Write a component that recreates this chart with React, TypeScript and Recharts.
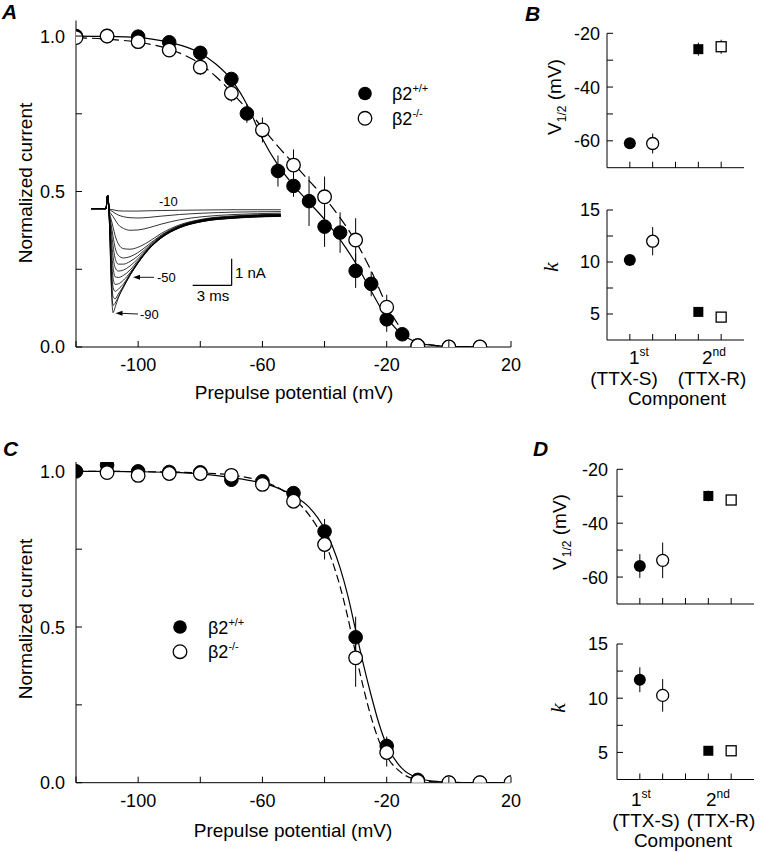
import React from 'react';
import {
  ComposedChart,
  LineChart,
  Line,
  Scatter,
  XAxis,
  YAxis,
  ErrorBar,
  ReferenceLine,
} from 'recharts';

const FONT = '"Liberation Sans", Arial, Helvetica, sans-serif';
const SERIF = '"Liberation Serif", "Times New Roman", serif';

// ---------- Panel A: inactivation curves ----------
const aWtV = [-120, -110, -100, -90, -80, -70, -65, -55, -50, -45, -40, -35, -30, -25, -20, -15, -10, 0, 10];
const aWtI = [1.0, 1.0, 0.998, 0.98, 0.946, 0.862, 0.751, 0.566, 0.518, 0.469, 0.387, 0.368, 0.245, 0.203, 0.089, 0.041, 0.005, 0, 0];
const aWtErr = [0, 0, 0, 0.01, 0.015, 0.015, 0.03, 0.05, 0.035, 0.08, 0.065, 0.065, 0.055, 0.04, 0.04, 0.01, 0, 0, 0];

const aKoV = [-120, -110, -100, -90, -80, -70, -60, -50, -40, -30, -20, -10, 0, 10];
const aKoI = [0.995, 1.0, 0.982, 0.955, 0.9, 0.816, 0.698, 0.585, 0.483, 0.344, 0.128, 0.004, 0, 0];
const aKoErr = [0, 0.005, 0.01, 0.012, 0.025, 0.027, 0.04, 0.05, 0.065, 0.07, 0.04, 0, 0, 0];

const aFitV = [-120, -110, -100, -90, -80, -75, -70, -65, -60, -55, -50, -45, -40, -35, -30, -25, -20, -15, -10, -5, 0, 10];
const aFitWt = [1.0, 0.999, 0.995, 0.98, 0.945, 0.91, 0.86, 0.78, 0.67, 0.585, 0.52, 0.465, 0.41, 0.345, 0.27, 0.18, 0.095, 0.04, 0.014, 0.005, 0.002, 0];
const aFitKo = [0.995, 0.99, 0.98, 0.958, 0.91, 0.87, 0.82, 0.765, 0.705, 0.645, 0.59, 0.535, 0.48, 0.415, 0.34, 0.245, 0.135, 0.055, 0.018, 0.006, 0.002, 0];

// inset current traces (ms, nA)
const INSET_T = [0, 1.15, 1.28, 1.42, 1.55, 1.7, 1.85, 2.1, 2.5, 3.0, 3.6, 4.4, 5.4, 6.8, 8.6, 11, 14.6];
const TRACES = [
  [0, 0, 0.5, -0.6, -2.8, -3.9, -3.7, -3.35, -2.95, -2.5, -2.05, -1.55, -1.1, -0.72, -0.48, -0.36, -0.29],
  [0, 0, 0.5, -0.55, -2.6, -3.62, -3.55, -3.3, -2.93, -2.5, -2.05, -1.55, -1.1, -0.72, -0.48, -0.35, -0.28],
  [0, 0, 0.5, -0.5, -2.3, -3.3, -3.38, -3.2, -2.9, -2.48, -2.04, -1.54, -1.09, -0.71, -0.47, -0.35, -0.28],
  [0, 0, 0.5, -0.45, -2.0, -2.95, -3.1, -3.02, -2.82, -2.45, -2.02, -1.53, -1.08, -0.7, -0.46, -0.34, -0.27],
  [0, 0, 0.5, -0.4, -1.7, -2.6, -2.84, -2.82, -2.68, -2.4, -2.0, -1.52, -1.07, -0.69, -0.45, -0.33, -0.26],
  [0, 0, 0.5, -0.35, -1.4, -2.2, -2.55, -2.58, -2.5, -2.3, -1.95, -1.5, -1.06, -0.68, -0.44, -0.32, -0.25],
  [0, 0, 0.5, -0.3, -1.1, -1.8, -2.2, -2.34, -2.3, -2.15, -1.88, -1.47, -1.04, -0.67, -0.43, -0.31, -0.24],
  [0, 0, 0.5, -0.25, -0.8, -1.4, -1.85, -2.08, -2.08, -1.98, -1.78, -1.42, -1.02, -0.66, -0.42, -0.3, -0.23],
  [0, 0, 0.5, -0.2, -0.6, -1.05, -1.45, -1.75, -1.85, -1.8, -1.65, -1.36, -0.99, -0.64, -0.41, -0.29, -0.22],
  [0, 0, 0.5, -0.15, -0.4, -0.7, -1.0, -1.32, -1.5, -1.52, -1.45, -1.25, -0.93, -0.61, -0.39, -0.27, -0.21],
  [0, 0, 0.5, -0.1, -0.2, -0.3, -0.42, -0.6, -0.74, -0.81, -0.8, -0.72, -0.58, -0.42, -0.3, -0.22, -0.17],
  [0, 0, 0.5, -0.05, -0.08, -0.12, -0.17, -0.24, -0.3, -0.34, -0.35, -0.33, -0.28, -0.22, -0.17, -0.13, -0.11],
  [0, 0, 0.5, -0.02, -0.03, -0.04, -0.06, -0.08, -0.09, -0.09, -0.09, -0.08, -0.07, -0.06, -0.05, -0.04, -0.04],
];

// ---------- Panel C ----------
const cWtV = [-120, -110, -100, -90, -80, -70, -60, -50, -40, -30, -20, -10, 0, 10, 20];
const cWtI = [1.0, 1.02, 1.0, 0.998, 0.997, 0.973, 0.968, 0.93, 0.807, 0.467, 0.118, 0.009, 0, 0, 0];
const cWtErr = [0, 0.005, 0.005, 0, 0, 0.01, 0.01, 0.015, 0.04, 0.066, 0.03, 0.005, 0, 0, 0];

const cKoV = [-110, -100, -90, -80, -70, -60, -50, -40, -30, -20, -10, 0, 10, 20];
const cKoI = [0.996, 0.987, 0.993, 0.993, 0.987, 0.958, 0.904, 0.765, 0.401, 0.097, 0.004, 0, 0, 0];
const cKoErr = [0, 0, 0, 0, 0.005, 0.01, 0.015, 0.048, 0.093, 0.045, 0, 0, 0, 0];

const cFitV = [-120, -110, -100, -90, -80, -70, -60, -55, -50, -45, -40, -37.5, -35, -32.5, -30, -27.5, -25, -22.5, -20, -15, -10, -5, 0, 10, 20];
const cFitWt = [1.0, 1.0, 0.999, 0.997, 0.992, 0.98, 0.962, 0.946, 0.922, 0.885, 0.815, 0.76, 0.69, 0.6, 0.49, 0.38, 0.28, 0.19, 0.12, 0.045, 0.015, 0.005, 0.0015, 0, 0];
const cFitKo = [1.0, 1.0, 0.999, 0.998, 0.995, 0.988, 0.968, 0.948, 0.912, 0.86, 0.775, 0.71, 0.63, 0.53, 0.415, 0.305, 0.21, 0.135, 0.085, 0.03, 0.009, 0.003, 0.001, 0, 0];

// ---------- Panels B and D: fit parameters, 1st / 2nd component ----------
const WT_SLOT = [1, 4];
const KO_SLOT = [2, 5];

const bV12Wt = [-60.9, -25.9];
const bV12WtErr = [1.0, 2.4];
const bV12Ko = [-61.0, -25.0];
const bV12KoErr = [3.7, 2.6];
const bKWt = [10.2, 5.2];
const bKWtErr = [0.3, 0.3];
const bKKo = [12.0, 4.7];
const bKKoErr = [1.36, 0.3];

const dV12Wt = [-55.9, -29.9];
const dV12WtErr = [4.4, 2.0];
const dV12Ko = [-53.8, -31.4];
const dV12KoErr = [6.6, 0.8];
const dKWt = [11.7, 5.15];
const dKWtErr = [1.15, 0.3];
const dKKo = [10.26, 5.15];
const dKKoErr = [1.5, 0.3];

const pts = (xs: number[], ys: number[], es?: number[]) =>
  xs.map((x, i) => ({ x, y: ys[i], err: es ? es[i] : 0 }));

const insetRows = INSET_T.map((t, j) => {
  const row: any = { t };
  TRACES.forEach((tr, i) => {
    row[`tr${i}`] = tr[j];
  });
  return row;
});

const XTick = ({ x, y, payload, labels, fs, dy }: any) => (
  <g>
    <line x1={x} y1={y} x2={x} y2={y - 6} stroke="#000" strokeWidth={1} />
    {labels.includes(payload.value) && (
      <text x={x} y={y + dy} textAnchor="middle" fontSize={fs} fontFamily={FONT} fill="#000">
        {payload.value}
      </text>
    )}
  </g>
);

const YTick = ({ x, y, payload, labels, fs, gap, fmt }: any) => (
  <g>
    <line x1={x} y1={y} x2={x + 6} y2={y} stroke="#000" strokeWidth={1} />
    {labels.includes(payload.value) && (
      <text x={x - gap} y={y} dy="0.36em" textAnchor="end" fontSize={fs} fontFamily={FONT} fill="#000">
        {fmt ? fmt(payload.value) : payload.value}
      </text>
    )}
  </g>
);

const filledCircle = (r: number) => (p: any) => <circle cx={p.cx} cy={p.cy} r={r} fill="#000" stroke="#000" />;
const openCircle = (r: number) => (p: any) => (
  <circle cx={p.cx} cy={p.cy} r={r} fill="#fff" stroke="#000" strokeWidth={1.3} />
);
const wtMarker = (p: any) =>
  p.payload.x < 3 ? (
    <circle cx={p.cx} cy={p.cy} r={6} fill="#000" />
  ) : (
    <rect x={p.cx - 5} y={p.cy - 5} width={10} height={10} fill="#000" />
  );
const koMarker = (p: any) =>
  p.payload.x < 3 ? (
    <circle cx={p.cx} cy={p.cy} r={6} fill="#fff" stroke="#000" strokeWidth={1.3} />
  ) : (
    <rect x={p.cx - 5} y={p.cy - 5} width={10} height={10} fill="#fff" stroke="#000" strokeWidth={1.3} />
  );

const CurvePanel = ({ left, top, margin, yMax, wt, ko, fitWt, fitKo, dash }: any) => (
  <div style={{ position: 'absolute', left, top }}>
    <ComposedChart width={530} height={400} margin={margin}>
      <XAxis
        type="number"
        dataKey="x"
        domain={[-120, 20]}
        ticks={[-120, -100, -80, -60, -40, -20, 0, 20]}
        interval={0}
        height={1}
        tickSize={0}
        tickMargin={0}
        tickLine={false}
        axisLine={{ stroke: '#000', strokeWidth: 1 }}
        allowDataOverflow
        tick={(p: any) => <XTick {...p} labels={[-100, -60, -20, 20]} fs={18} dy={24} />}
      />
      <YAxis
        type="number"
        dataKey="y"
        domain={[0, yMax]}
        ticks={[0, 0.25, 0.5, 0.75, 1]}
        interval={0}
        width={1}
        tickSize={0}
        tickMargin={0}
        tickLine={false}
        axisLine={{ stroke: '#000', strokeWidth: 1 }}
        allowDataOverflow
        tick={(p: any) => (
          <YTick {...p} labels={[0, 0.5, 1]} fs={18} gap={11} fmt={(v: number) => v.toFixed(1)} />
        )}
      />
      <Line data={fitWt} dataKey="y" type="monotone" stroke="#000" strokeWidth={1.2} dot={false} isAnimationActive={false} />
      <Line
        data={fitKo}
        dataKey="y"
        type="monotone"
        stroke="#000"
        strokeWidth={1.2}
        strokeDasharray={dash}
        dot={false}
        isAnimationActive={false}
      />
      <Scatter data={wt} dataKey="y" shape={filledCircle(6.8)} isAnimationActive={false}>
        <ErrorBar dataKey="err" direction="y" width={0} stroke="#000" strokeWidth={1} />
      </Scatter>
      <Scatter data={ko} dataKey="y" shape={openCircle(6.8)} isAnimationActive={false}>
        <ErrorBar dataKey="err" direction="y" width={0} stroke="#000" strokeWidth={1} />
      </Scatter>
    </ComposedChart>
  </div>
);

const ParamPanel = ({ left, top, height, margin, domain, ticks, labels, gap, wt, ko }: any) => (
  <div style={{ position: 'absolute', left, top }}>
    <ComposedChart width={200} height={height} margin={margin}>
      <XAxis
        type="number"
        dataKey="x"
        domain={[0, 6]}
        ticks={[1, 2, 3, 4, 5]}
        interval={0}
        height={1}
        tickSize={0}
        tickMargin={0}
        tickLine={false}
        axisLine={{ stroke: '#000', strokeWidth: 1 }}
        tick={(p: any) => <XTick {...p} labels={[]} fs={18} dy={24} />}
      />
      <YAxis
        type="number"
        dataKey="y"
        domain={domain}
        ticks={ticks}
        interval={0}
        width={1}
        tickSize={0}
        tickMargin={0}
        tickLine={false}
        axisLine={{ stroke: '#000', strokeWidth: 1 }}
        allowDataOverflow
        tick={(p: any) => <YTick {...p} labels={labels} fs={18} gap={gap} />}
      />
      <Scatter data={wt} dataKey="y" shape={wtMarker} isAnimationActive={false}>
        <ErrorBar dataKey="err" direction="y" width={0} stroke="#000" strokeWidth={1} />
      </Scatter>
      <Scatter data={ko} dataKey="y" shape={koMarker} isAnimationActive={false}>
        <ErrorBar dataKey="err" direction="y" width={0} stroke="#000" strokeWidth={1} />
      </Scatter>
    </ComposedChart>
  </div>
);

const Arrow = ({ x1, y1, x2, y2 }: any) => (
  <g>
    <line x1={x1} y1={y1} x2={x2 + 5} y2={y2} stroke="#000" strokeWidth={0.9} />
    <polygon points={`${x2},${y2} ${x2 + 7},${y2 - 2.5} ${x2 + 7},${y2 + 2.5}`} fill="#000" />
  </g>
);

const Genotype = ({ x, y, sup }: any) => (
  <text x={x} y={y} fontSize={18} fontFamily={FONT} fill="#000">
    β2
    <tspan dy={-8} fontSize={11}>
      {sup}
    </tspan>
  </text>
);

const V12Label = ({ x, y }: any) => (
  <text
    transform={`translate(${x},${y}) rotate(-90)`}
    y={6}
    textAnchor="middle"
    fontSize={19}
    fontFamily={FONT}
    fill="#000"
  >
    V
    <tspan dy={5} fontSize={12}>
      1/2
    </tspan>
    <tspan dy={-5}> (mV)</tspan>
  </text>
);

const KLabel = ({ x, y }: any) => (
  <text
    transform={`translate(${x},${y}) rotate(-90)`}
    y={6}
    textAnchor="middle"
    fontSize={22}
    fontStyle="italic"
    fontFamily={SERIF}
    fill="#000"
  >
    k
  </text>
);

const CompLabels = ({ y, c1, s1, c2, s2, comp }: any) => (
  <g fontFamily={FONT} fontSize={19} fill="#000">
    <text x={c1} y={y} textAnchor="middle">
      1<tspan dy={-8} fontSize={12}>st</tspan>
    </text>
    <text x={c2} y={y} textAnchor="middle">
      2<tspan dy={-8} fontSize={12}>nd</tspan>
    </text>
    <text x={s1} y={y + 21} textAnchor="middle">
      (TTX-S)
    </text>
    <text x={s2} y={y + 21} textAnchor="middle">
      (TTX-R)
    </text>
    <text x={comp} y={y + 41} textAnchor="middle">
      Component
    </text>
  </g>
);

export default function App() {
  const letter = { fontFamily: FONT, fontSize: 21, fontWeight: 700, fontStyle: 'italic' as const };
  return (
    <div style={{ position: 'absolute', left: 0, top: 0, width: 760, height: 853, background: '#fff' }}>
      <CurvePanel
        left={0}
        top={0}
        margin={{ top: 20.5, right: 19, bottom: 52, left: 75 }}
        yMax={1.05}
        wt={pts(aWtV, aWtI, aWtErr)}
        ko={pts(aKoV, aKoI, aKoErr)}
        fitWt={pts(aFitV, aFitWt)}
        fitKo={pts(aFitV, aFitKo)}
        dash="11 5"
      />
      <div style={{ position: 'absolute', left: 91, top: 190 }}>
        <LineChart width={195} height={128} data={insetRows} margin={{ top: 0, right: 0, bottom: 0, left: 0 }}>
          <XAxis type="number" dataKey="t" domain={[0, 15]} hide />
          <YAxis type="number" domain={[-4.1, 0.7]} hide allowDataOverflow />
          {TRACES.map((_, i) => (
            <Line
              key={i}
              dataKey={`tr${i}`}
              type="monotone"
              stroke="#000"
              strokeWidth={0.8}
              dot={false}
              isAnimationActive={false}
            />
          ))}
          <ReferenceLine segment={[{ x: 10.82, y: -1.88 }, { x: 10.82, y: -2.88 }]} stroke="#000" strokeWidth={1.2} ifOverflow="visible" />
          <ReferenceLine segment={[{ x: 7.82, y: -2.88 }, { x: 10.82, y: -2.88 }]} stroke="#000" strokeWidth={1.2} ifOverflow="visible" />
        </LineChart>
      </div>
      <CurvePanel
        left={0}
        top={430}
        margin={{ top: 32, right: 19, bottom: 46.3, left: 75 }}
        yMax={1.03}
        wt={pts(cWtV, cWtI, cWtErr)}
        ko={pts(cKoV, cKoI, cKoErr)}
        fitWt={pts(cFitV, cFitWt)}
        fitKo={pts(cFitV, cFitKo)}
        dash="8 4"
      />
      <ParamPanel
        left={560}
        top={0}
        height={190}
        margin={{ top: 33.3, right: 16, bottom: 21.3, left: 46 }}
        domain={[-70, -20]}
        ticks={[-60, -50, -40, -30, -20]}
        labels={[-60, -40, -20]}
        gap={7}
        wt={pts(WT_SLOT, bV12Wt, bV12WtErr)}
        ko={pts(KO_SLOT, bV12Ko, bV12KoErr)}
      />
      <ParamPanel
        left={560}
        top={190}
        height={170}
        margin={{ top: 20, right: 16, bottom: 19, left: 46 }}
        domain={[2.5, 15]}
        ticks={[5, 7.5, 10, 12.5, 15]}
        labels={[5, 10, 15]}
        gap={7}
        wt={pts(WT_SLOT, bKWt, bKWtErr)}
        ko={pts(KO_SLOT, bKKo, bKKoErr)}
      />
      <ParamPanel
        left={560}
        top={430}
        height={190}
        margin={{ top: 39.3, right: 6, bottom: 15, left: 56 }}
        domain={[-70, -20]}
        ticks={[-60, -50, -40, -30, -20]}
        labels={[-60, -40, -20]}
        gap={9}
        wt={pts(WT_SLOT, dV12Wt, dV12WtErr)}
        ko={pts(KO_SLOT, dV12Ko, dV12KoErr)}
      />
      <ParamPanel
        left={560}
        top={620}
        height={180}
        margin={{ top: 24, right: 6, bottom: 19.5, left: 56 }}
        domain={[2.5, 15]}
        ticks={[5, 7.5, 10, 12.5, 15]}
        labels={[5, 10, 15]}
        gap={9}
        wt={pts(WT_SLOT, dKWt, dKWtErr)}
        ko={pts(KO_SLOT, dKKo, dKKoErr)}
      />
      <svg
        width={760}
        height={853}
        style={{ position: 'absolute', left: 0, top: 0, pointerEvents: 'none' }}
      >
        <text x={2} y={19} {...letter}>A</text>
        <text x={525} y={21} {...letter}>B</text>
        <text x={3} y={456} {...letter}>C</text>
        <text x={533} y={456} {...letter}>D</text>

        <g fontFamily={FONT} fontSize={19} fill="#000">
          <text transform="translate(25,183) rotate(-90)" y={6.5} textAnchor="middle">
            Normalized current
          </text>
          <text x={294} y={399} textAnchor="middle">
            Prepulse potential (mV)
          </text>
          <text transform="translate(25,619) rotate(-90)" y={6.5} textAnchor="middle">
            Normalized current
          </text>
          <text x={293} y={837} textAnchor="middle">
            Prepulse potential (mV)
          </text>
        </g>

        <circle cx={365} cy={93.5} r={6.8} fill="#000" />
        <Genotype x={392} y={100} sup="+/+" />
        <circle cx={365} cy={118.3} r={6.8} fill="#fff" stroke="#000" strokeWidth={1.3} />
        <Genotype x={392} y={125} sup="-/-" />

        <circle cx={180} cy={627} r={6.8} fill="#000" />
        <Genotype x={208} y={633.5} sup="+/+" />
        <circle cx={180} cy={651.7} r={6.8} fill="#fff" stroke="#000" strokeWidth={1.3} />
        <Genotype x={208} y={658} sup="-/-" />

        <g fontFamily={FONT} fill="#000">
          <text x={159} y={206} fontSize={13}>-10</text>
          <text x={157} y={281.5} fontSize={13}>-50</text>
          <text x={140} y={319} fontSize={13}>-90</text>
          <text x={235} y={278} fontSize={15}>1 nA</text>
          <text x={213} y={301} fontSize={15} textAnchor="middle">3 ms</text>
        </g>
        <Arrow x1={154} y1={277.3} x2={133} y2={277.3} />
        <Arrow x1={138} y1={314} x2={115.5} y2={313.3} />

        <V12Label x={555} y={97} />
        <KLabel x={552} y={267} />
        <V12Label x={560} y={532} />
        <KLabel x={559} y={708} />

        <CompLabels y={364} c1={639} s1={624} c2={714} s2={712} comp={677} />
        <CompLabels y={806} c1={641} s1={646} c2={718} s2={721} comp={683} />
      </svg>
    </div>
  );
}
